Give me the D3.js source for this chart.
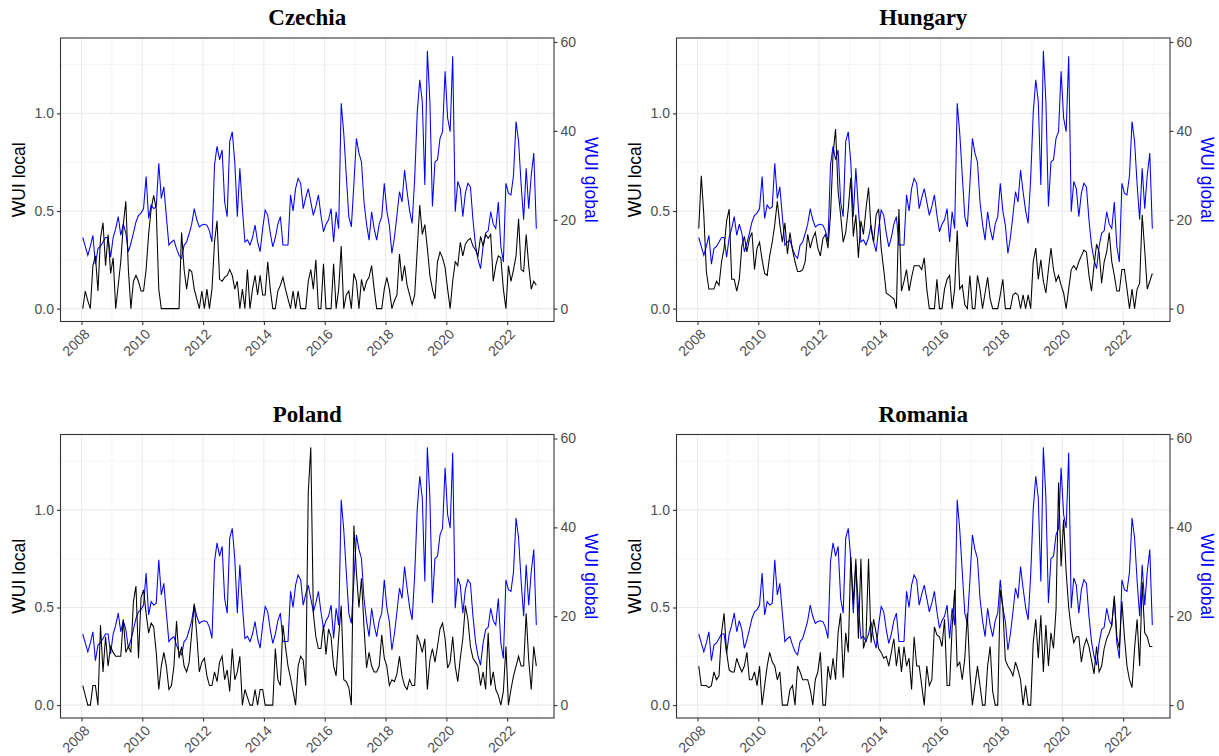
<!DOCTYPE html>
<html>
<head>
<meta charset="utf-8">
<script src="https://cdn.jsdelivr.net/npm/d3@7"></script>
<style>
  body { margin: 0; background: #fff; }
  text { font-family: "Liberation Sans", Arial, sans-serif; }
</style>
</head>
<body>
<div id="chart"></div>
<script>
// monthly series, Jan 2008 - Dec 2022 (one row per year)
var wuiGlobal = [
  16, 14, 12, 14, 16.5, 10, 13.5, 14, 15, 16, 16, 11.6,
  16, 18, 20.7, 16.5, 19, 17, 12.8, 14.7, 17, 19.5, 21, 21.5,
  22.5, 29.7, 20.3, 23.3, 22.5, 22.9, 32.7, 24.8, 27.4, 20.7, 14.3, 15,
  15.4, 13.5, 12, 11.3, 14.3, 15, 16.9, 19, 22.5, 20, 18.4, 18.8,
  19, 18.8, 17.5, 15, 32.3, 36.5, 33.5, 35.7, 24, 20.7, 37.6, 39.8,
  33, 20.7, 31.6, 22.5, 15, 15.5, 14.3, 16, 18.8, 15, 12.8, 18,
  22.2, 21, 17, 13.9, 16, 19, 20.7, 14.3, 14.3, 14.3, 25.6, 22,
  27, 29.3, 28.2, 22.5, 25, 27, 24, 21, 23, 25.6, 21, 17.3,
  19, 20, 22.5, 15, 21.8, 18, 46.2, 39.5, 30, 20.7, 18.4, 28,
  38.3, 35, 33, 24, 19, 15.4, 21.8, 18, 15.4, 19, 20.7, 28.2,
  22, 18.8, 12.4, 16, 21, 26.3, 24, 31.2, 26.3, 22, 19.2, 29.3,
  44, 51.5, 46.6, 27.8, 58, 46.6, 23, 33, 33.5, 38.3, 39.8, 53.4,
  42.9, 39.8, 56.8, 21.8, 28.6, 27, 20.7, 26, 28.2, 27.4, 20, 14.3,
  11, 9, 14, 17, 17.5, 21.8, 19, 18, 24, 14, 10.5, 28.2,
  26, 25.6, 30, 42.1, 37.6, 28, 20, 31.6, 22.5, 30, 35, 18
];

var czechiaLocal = [
  0, 0.09, 0.04, 0, 0.22, 0.27, 0.09, 0.36, 0.44, 0.22, 0.38, 0.18,
  0.26, 0, 0.12, 0.24, 0.43, 0.55, 0.2, 0, 0.14, 0.17, 0.14, 0.09,
  0.09, 0.2, 0.38, 0.51, 0.58, 0.51, 0.1, 0, 0, 0, 0, 0,
  0, 0, 0, 0.39, 0.2, 0.1, 0.2, 0.19, 0.1, 0.05, 0, 0.09,
  0, 0.1, 0, 0.1, 0.34, 0.45, 0.15, 0.14, 0.16, 0.17, 0.2, 0.17,
  0.1, 0.14, 0, 0.1, 0, 0.2, 0, 0.1, 0.17, 0.07, 0.17, 0.07,
  0.07, 0.24, 0.1, 0, 0, 0.09, 0.12, 0.16, 0.1, 0.05, 0, 0.09,
  0, 0.09, 0, 0, 0, 0.14, 0.2, 0.1, 0.25, 0, 0, 0.23,
  0, 0, 0, 0.23, 0, 0.1, 0.32, 0, 0.07, 0.09, 0, 0.18,
  0.14, 0, 0.15, 0.09, 0.14, 0.16, 0.22, 0.1, 0, 0, 0, 0.1,
  0.16, 0.1, 0, 0.04, 0.07, 0.28, 0.14, 0.22, 0.12, 0.07, 0.02, 0.07,
  0.3, 0.53, 0.38, 0.43, 0.31, 0.17, 0.1, 0.05, 0.24, 0.29, 0.26, 0.21,
  0.1, 0, 0.14, 0.24, 0.22, 0.34, 0.27, 0.33, 0.35, 0.36, 0.32, 0.3,
  0.27, 0.37, 0.32, 0.38, 0.36, 0.38, 0.14, 0.22, 0.27, 0.26, 0.1, 0,
  0.22, 0.14, 0.2, 0.27, 0.46, 0.2, 0.19, 0.38, 0.22, 0.1, 0.14, 0.12
];

var hungaryLocal = [
  0.41, 0.68, 0.48, 0.19, 0.1, 0.1, 0.1, 0.14, 0.12, 0.24, 0.31, 0.45,
  0.51, 0.15, 0.15, 0.09, 0.15, 0.32, 0.37, 0.29, 0.36, 0.39, 0.2, 0.31,
  0.34, 0.25, 0.18, 0.17, 0.27, 0.34, 0.43, 0.55, 0.43, 0.34, 0.44, 0.28,
  0.39, 0.3, 0.24, 0.19, 0.19, 0.2, 0.24, 0.38, 0.31, 0.36, 0.39, 0.31,
  0.27, 0.36, 0.38, 0.31, 0.48, 0.79, 0.92, 0.6, 0.48, 0.34, 0.39, 0.51,
  0.67, 0.37, 0.48, 0.26, 0.45, 0.38, 0.51, 0.62, 0.41, 0.34, 0.48, 0.51,
  0.31, 0.2, 0.08, 0.07, 0.06, 0.05, 0, 0.51, 0.09, 0.14, 0.2, 0.09,
  0.16, 0.22, 0.22, 0.22, 0.2, 0.26, 0.1, 0, 0, 0, 0.15, 0,
  0, 0.1, 0.15, 0.17, 0, 0.1, 0.4, 0.1, 0.12, 0.02, 0, 0.17,
  0, 0, 0.17, 0.1, 0, 0.08, 0.16, 0.05, 0, 0, 0, 0.07,
  0.15, 0, 0, 0, 0.07, 0.08, 0.07, 0, 0.07, 0, 0.07, 0,
  0.24, 0.31, 0.15, 0.25, 0.14, 0.08, 0.2, 0.31, 0.2, 0.14, 0.17, 0.12,
  0.08, 0, 0.1, 0.2, 0.22, 0.2, 0.24, 0.27, 0.3, 0.29, 0.17, 0.09,
  0.22, 0.33, 0.29, 0.13, 0.24, 0.29, 0.39, 0.24, 0.17, 0.09, 0.09, 0.2,
  0.2, 0.1, 0, 0.1, 0, 0.1, 0.13, 0.48, 0.3, 0.1, 0.14, 0.18
];

var polandLocal = [
  0.1, 0.05, 0, 0, 0.1, 0.1, 0, 0.41, 0.17, 0.35, 0.2, 0.3,
  0.27, 0.25, 0.25, 0.25, 0.44, 0.27, 0.3, 0.27, 0.53, 0.61, 0.24, 0.55,
  0.59, 0.47, 0.37, 0.42, 0.4, 0.27, 0.08, 0.2, 0.27, 0.2, 0.08, 0.1,
  0.2, 0.43, 0.24, 0.3, 0.2, 0.17, 0.22, 0.37, 0.52, 0.36, 0.17, 0.22,
  0.24, 0.15, 0.1, 0.1, 0.17, 0.12, 0.22, 0.25, 0.13, 0.18, 0.07, 0.29,
  0.13, 0.17, 0.25, 0, 0.08, 0.04, 0, 0, 0.08, 0, 0.08, 0.08,
  0, 0, 0, 0, 0.29, 0.13, 0.1, 0.41, 0.3, 0.2, 0.14, 0.07,
  0, 0.2, 0.25, 0.23, 0.1, 1.09, 1.32, 0.47, 0.35, 0.29, 0.29, 0.41,
  0.26, 0.39, 0.35, 0.2, 0.15, 0.35, 0.51, 0.13, 0.12, 0.09, 0, 0.92,
  0.68, 0.5, 0.65, 0.4, 0.19, 0.27, 0.2, 0.17, 0.17, 0.2, 0.36, 0.24,
  0.2, 0.1, 0.13, 0.12, 0.16, 0.25, 0.15, 0.1, 0.08, 0.13, 0.1, 0.1,
  0.36, 0.32, 0.27, 0.34, 0.08, 0.23, 0.29, 0.22, 0.3, 0.39, 0.42, 0.34,
  0.19, 0.22, 0.35, 0.2, 0.12, 0.24, 0.34, 0.51, 0.44, 0.3, 0.24, 0.22,
  0.2, 0.1, 0.17, 0.08, 0.37, 0.1, 0.17, 0.08, 0.05, 0, 0.07, 0.3,
  0, 0.08, 0.15, 0.2, 0.25, 0.2, 0.2, 0.47, 0.23, 0.08, 0.3, 0.2
];

var romaniaLocal = [
  0.2, 0.1, 0.1, 0.1, 0.09, 0.1, 0.17, 0.13, 0.15, 0.37, 0.47, 0.27,
  0.18, 0.17, 0.17, 0.24, 0.2, 0.17, 0.2, 0.27, 0.13, 0.13, 0.17, 0.1,
  0.2, 0, 0.1, 0.2, 0.27, 0.22, 0.2, 0.13, 0.17, 0, 0, 0,
  0.08, 0.1, 0, 0.2, 0.17, 0.13, 0.13, 0.13, 0.08, 0, 0.13, 0.17,
  0.27, 0, 0, 0.2, 0.13, 0.24, 0.13, 0.37, 0.47, 0.14, 0.37, 0.27,
  0.76, 0.52, 0.75, 0.34, 0.75, 0.29, 0.34, 0.75, 0.32, 0.44, 0.37, 0.29,
  0.27, 0.24, 0.25, 0.2, 0.27, 0.34, 0.2, 0.3, 0.17, 0.3, 0.2, 0.24,
  0.08, 0.35, 0.2, 0.2, 0.1, 0, 0.2, 0.1, 0.13, 0.4, 0.36, 0.35,
  0.3, 0.44, 0.1, 0.1, 0.4, 0.59, 0.2, 0.22, 0.13, 0.24, 0.47, 0.17,
  0, 0.1, 0.2, 0.1, 0, 0, 0.2, 0.3, 0.07, 0, 0, 0.59,
  0.5, 0.23, 0.2, 0.18, 0.15, 0.22, 0.18, 0.13, 0, 0.1, 0, 0,
  0.32, 0.44, 0.24, 0.46, 0.17, 0.41, 0.2, 0.37, 0.29, 0.49, 1.14, 0.71,
  0.95, 0.68, 0.5, 0.39, 0.32, 0.35, 0.35, 0.22, 0.3, 0.34, 0.3, 0.23,
  0.16, 0.3, 0.17, 0.2, 0.29, 0.34, 0.37, 0.41, 0.56, 0.35, 0.29, 0.53,
  0.35, 0.2, 0.13, 0.09, 0.29, 0.44, 0.2, 0.63, 0.37, 0.35, 0.3, 0.3
];

var countries = ["Czechia", "Hungary", "Poland", "Romania"];
var localSeries = [czechiaLocal, hungaryLocal, polandLocal, romaniaLocal];
var yearTicks = [2008, 2010, 2012, 2014, 2016, 2018, 2020, 2022];
var localTicks = [0, 0.5, 1.0];
var globalTicks = [0, 20, 40, 60];

var svgWidth = 1219, svgHeight = 756;
var panelW = 493.5, panelH = 283.5;
var panelPos = [
  {left: 60.5, top: 38},
  {left: 676.5, top: 38},
  {left: 60.5, top: 434.5},
  {left: 676.5, top: 434.5}
];

var svg = d3.select("#chart")
  .append("svg")
  .attr("width", svgWidth)
  .attr("height", svgHeight);

svg.append("rect").attr("width", svgWidth).attr("height", svgHeight).attr("fill", "#fff");

// time as fractional years, mid-month
var months = d3.range(wuiGlobal.length).map(function(i) { return 2008 + (i + 0.5) / 12; });

var maxLocal = d3.max(localSeries, function(s) { return d3.max(s); });
var ratio = d3.max(wuiGlobal) / maxLocal;
var pad = maxLocal * 0.05;

var x = d3.scaleLinear().domain([2007.31, 2023.54]).range([0, panelW]);
var y = d3.scaleLinear().domain([-pad, maxLocal + pad]).range([panelH, 0]);
var y2 = d3.scaleLinear().domain([-pad * ratio, (maxLocal + pad) * ratio]).range([panelH, 0]);

var minorX = d3.range(2007, 2025, 2).filter(function(v) { return v > x.domain()[0] && v < x.domain()[1]; });
var minorY = [0.25, 0.75, 1.25];

var line = d3.line()
  .x(function(d, i) { return x(months[i]); })
  .y(function(d) { return y(d); });

var lineGlobal = d3.line()
  .x(function(d, i) { return x(months[i]); })
  .y(function(d) { return y2(d); });

countries.forEach(function(name, p) {
  var pos = panelPos[p];
  var g = svg.append("g").attr("transform", "translate(" + pos.left + "," + pos.top + ")");

  // grid
  g.selectAll(".minx").data(minorX).enter().append("line")
    .attr("x1", function(d) { return x(d); }).attr("x2", function(d) { return x(d); })
    .attr("y1", 0).attr("y2", panelH)
    .attr("stroke", "#EBEBEB").attr("stroke-width", 0.55);
  g.selectAll(".miny").data(minorY).enter().append("line")
    .attr("y1", function(d) { return y(d); }).attr("y2", function(d) { return y(d); })
    .attr("x1", 0).attr("x2", panelW)
    .attr("stroke", "#EBEBEB").attr("stroke-width", 0.55);
  g.selectAll(".majx").data(yearTicks).enter().append("line")
    .attr("x1", function(d) { return x(d); }).attr("x2", function(d) { return x(d); })
    .attr("y1", 0).attr("y2", panelH)
    .attr("stroke", "#EBEBEB").attr("stroke-width", 1.1);
  g.selectAll(".majy").data(localTicks).enter().append("line")
    .attr("y1", function(d) { return y(d); }).attr("y2", function(d) { return y(d); })
    .attr("x1", 0).attr("x2", panelW)
    .attr("stroke", "#EBEBEB").attr("stroke-width", 1.1);

  // lines
  g.append("path").datum(wuiGlobal)
    .attr("d", lineGlobal)
    .attr("fill", "none").attr("stroke", "#0000FF").attr("stroke-width", 1.05);
  g.append("path").datum(localSeries[p])
    .attr("d", line)
    .attr("fill", "none").attr("stroke", "#000").attr("stroke-width", 1.05);

  // border
  g.append("rect").attr("width", panelW).attr("height", panelH)
    .attr("fill", "none").attr("stroke", "#333333").attr("stroke-width", 1.1);

  // axes
  var axL = g.append("g").call(d3.axisLeft(y).tickValues(localTicks).tickFormat(d3.format(".1f")).tickSize(3.5).tickPadding(3));
  var axR = g.append("g").attr("transform", "translate(" + panelW + ",0)")
    .call(d3.axisRight(y2).tickValues(globalTicks).tickSize(3.5).tickPadding(3));
  var axB = g.append("g").attr("transform", "translate(0," + panelH + ")")
    .call(d3.axisBottom(x).tickValues(yearTicks).tickFormat(d3.format("d")).tickSize(3.5));

  [axL, axR, axB].forEach(function(a) {
    a.select(".domain").remove();
    a.selectAll(".tick line").attr("stroke", "#333333").attr("stroke-width", 1.1);
    a.selectAll(".tick text").attr("fill", "#4D4D4D").style("font-size", "14px")
      .style("font-family", "'Liberation Sans', Arial, sans-serif");
  });

  axB.selectAll(".tick text")
    .attr("text-anchor", "end")
    .attr("transform", "translate(1,6) rotate(-45)")
    .attr("x", 0).attr("y", 0).attr("dy", "0.75em");

  // titles
  g.append("text")
    .attr("x", panelW / 2).attr("y", -13)
    .attr("text-anchor", "middle")
    .style("font-family", "'Liberation Serif', 'Times New Roman', serif")
    .style("font-weight", "bold").style("font-size", "23px")
    .text(name);

  g.append("text")
    .attr("transform", "translate(-42," + panelH / 2 + ") rotate(-90)")
    .attr("text-anchor", "middle").attr("dy", "0.35em")
    .style("font-size", "17.5px").attr("fill", "#000")
    .text("WUI local");

  g.append("text")
    .attr("transform", "translate(" + (panelW + 37) + "," + panelH / 2 + ") rotate(90)")
    .attr("text-anchor", "middle").attr("dy", "0.35em")
    .style("font-size", "17.5px").attr("fill", "#0000FF")
    .text("WUI global");
});
</script>
</body>
</html>
